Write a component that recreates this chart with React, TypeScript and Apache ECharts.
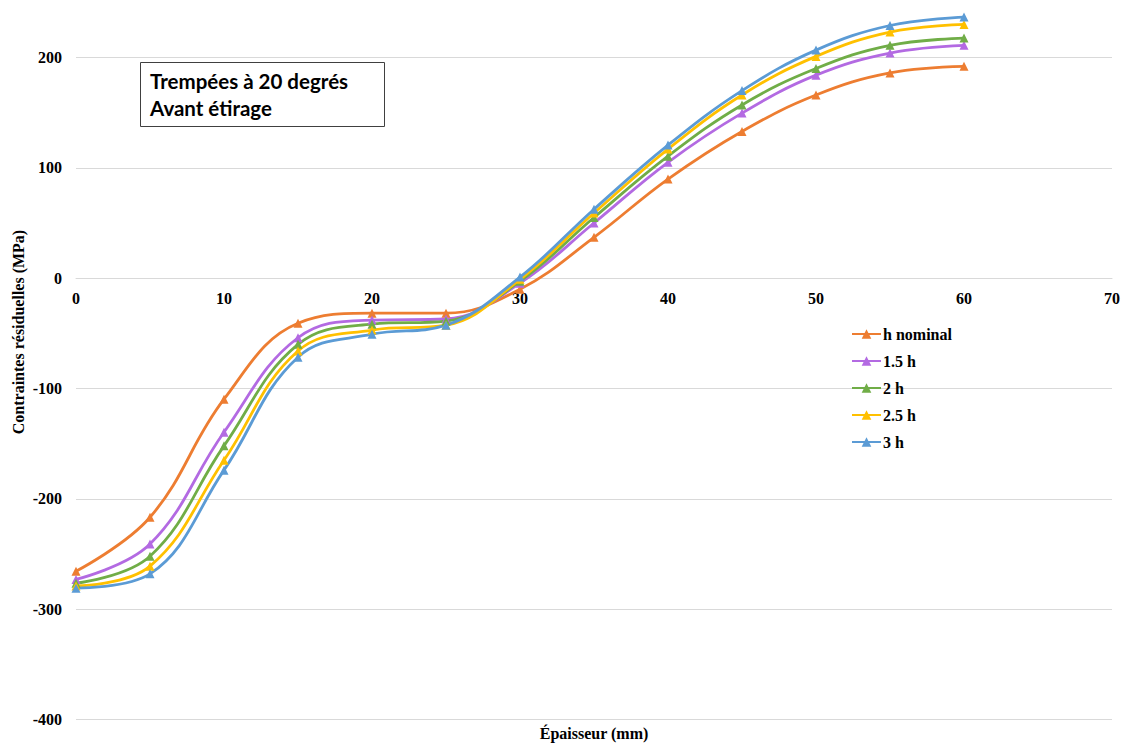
import React, { useEffect, useRef } from "react";
import * as echarts from "echarts";

const thickness = [0, 5, 10, 15, 20, 25, 30, 35, 40, 45, 50, 55, 60];
const seriesNames = ["h nominal", "1.5 h", "2 h", "2.5 h", "3 h"];
const hNominal = [-265.6, -216.7, -109.7, -40.8, -31.7, -31.7, -10, 37, 89.8, 133, 166, 186, 192];
const h15 = [-273, -241, -139.6, -54, -38, -37, -4.5, 50, 105, 149.6, 184, 204, 211];
const h2 = [-276.5, -252, -152, -60, -41.7, -39, -2.7, 55, 110.6, 157, 190, 211, 217.6];
const h25 = [-279, -261, -165, -66, -47, -42.6, -1, 59, 117, 166, 201, 223, 230];
const h3 = [-281, -268, -174, -71.6, -50.8, -42.6, 1, 62.5, 120.6, 170, 206.7, 229, 236.6];
const colors = ["#ED7D31", "#B36AE2", "#70AD47", "#FFC000", "#5B9BD5"];
const allValues = [hNominal, h15, h2, h25, h3];

export default function App() {
  const ref = useRef<HTMLDivElement>(null);
  useEffect(() => {
    if (!ref.current) return;
    const chart = echarts.init(ref.current, undefined, { renderer: "svg" });
    const serif = "'Liberation Serif', 'Times New Roman', serif";
    const gridTop = 57.5;
    const gridBottom = 25.5;
    const plotH = 745 - gridTop - gridBottom;
    const yMin = -400;
    const yMax = 200;
    const zeroOffset = -plotH * (0 - yMin) / (yMax - yMin);
    chart.setOption({
      animation: false,
      backgroundColor: "#ffffff",
      grid: { left: 76, right: 16, top: gridTop, bottom: gridBottom, containLabel: false },
      xAxis: {
        type: "value",
        min: 0,
        max: 70,
        interval: 10,
        position: "bottom",
        offset: zeroOffset,
        axisLine: { show: true, onZero: false, lineStyle: { color: "#d9d9d9", width: 1 } },
        axisTick: { show: false },
        splitLine: { show: false },
        axisLabel: {
          color: "#000",
          fontFamily: serif,
          fontWeight: "bold",
          fontSize: 16,
          margin: 12,
        },
      },
      yAxis: {
        type: "value",
        min: yMin,
        max: yMax,
        interval: 100,
        axisLine: { show: false },
        axisTick: { show: false },
        splitLine: { show: true, lineStyle: { color: "#d9d9d9", width: 1 } },
        axisLabel: {
          color: "#000",
          fontFamily: serif,
          fontWeight: "bold",
          fontSize: 16,
          margin: 14,
        },
      },
      legend: {
        orient: "vertical",
        left: 846,
        top: 321,
        itemGap: 11,
        itemWidth: 29,
        itemHeight: 12,
        textStyle: {
          color: "#000",
          fontFamily: serif,
          fontWeight: "bold",
          fontSize: 16,
          lineHeight: 16,
          padding: [0, 0, 0, -3],
        },
        data: seriesNames,
      },
      series: seriesNames.map((name, i) => ({
        name,
        type: "line",
        smooth: 0.4,
        clip: false,
        symbol: "triangle",
        symbolSize: 9,
        color: colors[i],
        lineStyle: { width: 2.8, color: colors[i] },
        itemStyle: { color: colors[i] },
        data: thickness.map((x, j) => [x, allValues[i][j]]),
      })),
      graphic: [
        {
          type: "rect",
          shape: { x: 140.5, y: 62.5, width: 244, height: 64 },
          style: { fill: "#fff", stroke: "#404040", lineWidth: 1 },
          z: 10,
        },
        {
          type: "text",
          x: 150,
          y: 67,
          style: {
            text: "Trempées à 20 degrés\nAvant étirage",
            fontFamily: "Lato, 'Open Sans', sans-serif",
            fontWeight: "bold",
            fontSize: 20.5,
            lineHeight: 27,
            fill: "#000",
          },
          z: 11,
        },
        {
          type: "text",
          x: 18,
          y: 332,
          rotation: Math.PI / 2,
          style: {
            text: "Contraintes résiduelles (MPa)",
            fontFamily: serif,
            fontWeight: "bold",
            fontSize: 16,
            fill: "#000",
            align: "center",
            verticalAlign: "middle",
          },
        },
        {
          type: "text",
          x: 594,
          y: 733,
          style: {
            text: "Épaisseur (mm)",
            fontFamily: serif,
            fontWeight: "bold",
            fontSize: 16,
            fill: "#000",
            align: "center",
            verticalAlign: "middle",
          },
        },
      ],
    });
    return () => chart.dispose();
  }, []);
  return (
    <div
      ref={ref}
      style={{ position: "fixed", left: 0, top: 0, width: 1128, height: 745, background: "#fff" }}
    />
  );
}
